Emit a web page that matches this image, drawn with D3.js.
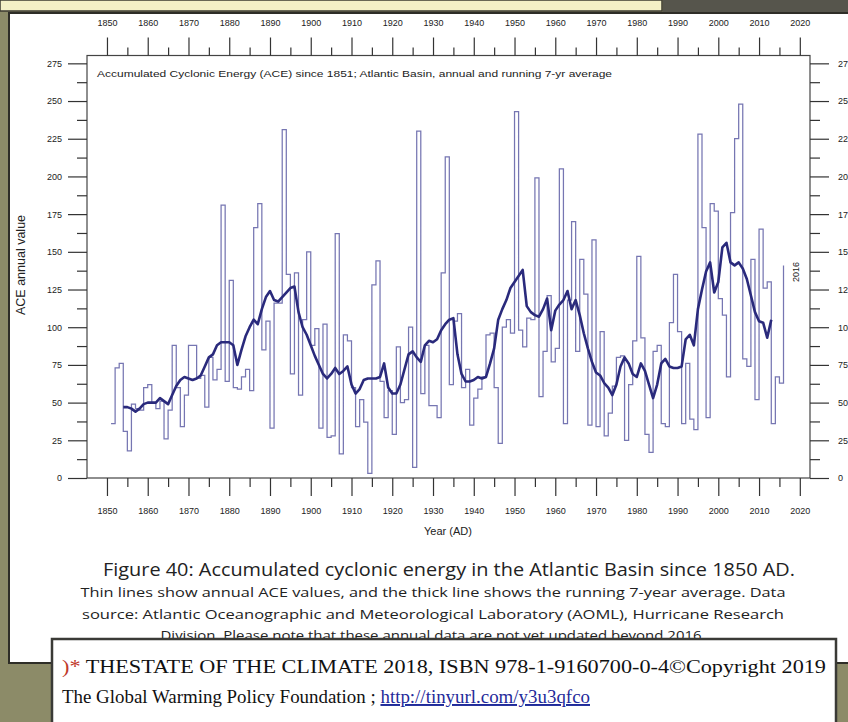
<!DOCTYPE html>
<html>
<head>
<meta charset="utf-8">
<script src="https://cdn.jsdelivr.net/npm/d3@7"></script>
<style>
  body { margin: 0; background: #8c8b68; }
  svg { display: block; }
</style>
</head>
<body>
<div id="chart-area"></div>
<script>
// annual ACE, 1851-2016
const years = d3.range(1851, 2017);
const aceAnnual = [
  36, 73, 76, 31, 18, 49, 46, 45, 60, 62,
  50, 46, 51, 26, 45, 88, 60, 34, 55, 88,
  88, 66, 68, 47, 80, 65, 72, 181, 64, 131,
  60, 59, 67, 72, 58, 166, 182, 85, 104, 33,
  116, 116, 231, 135, 69, 136, 55, 105, 150, 88,
  99, 33, 102, 27, 28, 162, 16, 95, 91, 60,
  34, 52, 37, 3, 128, 144, 64, 40, 58, 29,
  87, 50, 52, 100, 7, 230, 56, 88, 48, 48,
  40, 136, 213, 62, 104, 109, 60, 72, 35, 53,
  59, 67, 95, 96, 60, 23, 100, 105, 96, 243,
  98, 87, 106, 105, 199, 54, 84, 121, 77, 86,
  205, 36, 118, 170, 84, 145, 122, 35, 158, 34,
  97, 28, 43, 61, 80, 81, 25, 62, 91, 147,
  93, 29, 17, 84, 88, 36, 34, 103, 135, 97,
  36, 76, 39, 32, 228, 166, 40, 182, 177, 119,
  108, 67, 176, 225, 248, 79, 74, 145, 52, 165,
  126, 130, 36, 67, 63, 141
];

// running 7-yr average, 1854-2013
const meanYears = d3.range(1854, 2014);
const aceMean = [
  47, 47, 46, 44, 46, 49, 50,
  50, 50, 53, 51, 49, 55, 61, 65, 67, 66,
  65, 66, 68, 74, 80, 82, 88, 90, 90, 90,
  88, 75, 85, 94, 100, 105, 102, 112, 120, 124,
  118, 117, 120, 123, 126, 127, 110, 100, 95, 88,
  81, 75, 69, 66, 69, 73, 69, 71, 74, 62,
  56, 59, 65, 66, 66, 66, 67, 76, 60, 56,
  56, 62, 72, 82, 84, 80, 77, 88, 91, 90,
  92, 98, 102, 105, 106, 82, 69, 64, 64, 65,
  67, 66, 67, 76, 86, 105, 112, 118, 126, 130,
  134, 138, 114, 110, 108, 107, 112, 119, 98, 111,
  115, 118, 124, 112, 118, 108, 96, 86, 77, 70,
  68, 63, 60, 55, 62, 74, 80, 76, 69, 67,
  76, 71, 62, 53, 62, 76, 79, 74, 73, 73,
  74, 92, 95, 88, 112, 125, 137, 143, 123, 130,
  153, 156, 143, 141, 143, 139, 132, 121, 110, 104,
  103, 93, 105
];

const decadeTicks = d3.range(1850, 2021, 10);
const halfDecadeTicks = d3.range(1855, 2021, 10);
const yMajor = [0, 25, 50, 75, 100, 125, 150, 175, 200, 225, 250, 275];
const yMinor = [12.5, 37.5, 62.5, 87.5, 112.5, 137.5, 162.5, 187.5, 212.5, 237.5, 262.5];

const chartTitle = "Accumulated Cyclonic Energy (ACE) since 1851; Atlantic Basin, annual and running 7-yr average";
const captionLines = [
  "Thin lines show annual ACE values, and the thick line shows the running 7-year average. Data",
  "source: Atlantic Oceanographic and Meteorological Laboratory (AOML), Hurricane Research",
  "Division. Please note that these annual data are not yet updated beyond 2016."
];

const W = 848, H = 722;
const plot = { left: 87, right: 810, top: 55.5, bottom: 478 };

const svg = d3.select("#chart-area")
  .append("svg")
    .attr("width", W)
    .attr("height", H);

// page background pieces
svg.append("rect").attr("width", W).attr("height", H).attr("fill", "#8c8b68");
svg.append("rect").attr("x", 0).attr("y", 0).attr("width", 662).attr("height", 11)
  .attr("fill", "#f4f0c6").attr("stroke", "#3c3b30").attr("stroke-width", 1.5);
svg.append("rect").attr("x", 663).attr("y", 0).attr("width", 185).attr("height", 13)
  .attr("fill", "#56554c");
svg.append("rect").attr("x", 9).attr("y", 13).attr("width", 860).attr("height", 650)
  .attr("fill", "#ffffff").attr("stroke", "#2e2d27").attr("stroke-width", 2);

const x = d3.scaleLinear()
  .domain([1845.1, 2022.5])
  .range([plot.left, plot.right]);

const y = d3.scaleLinear()
  .domain([0, 280.2])
  .range([plot.bottom, plot.top]);

const g = svg.append("g");

// frame
g.append("rect")
  .attr("x", plot.left).attr("y", plot.top)
  .attr("width", plot.right - plot.left).attr("height", plot.bottom - plot.top)
  .attr("fill", "none").attr("stroke", "#444").attr("stroke-width", 1.2);

function styleAxis(sel) {
  sel.select(".domain").remove();
  sel.selectAll("line").attr("stroke", "#333").attr("stroke-width", 1.2);
  sel.selectAll("text")
    .attr("font-family", "Liberation Sans, Arial, sans-serif")
    .attr("font-size", "9px")
    .attr("fill", "#222");
}

// bottom x axis
g.append("g")
  .attr("transform", "translate(0," + plot.bottom + ")")
  .call(d3.axisBottom(x).tickValues(decadeTicks).tickSize(18).tickPadding(12).tickFormat(d3.format("d")))
  .call(styleAxis);
g.append("g")
  .attr("transform", "translate(0," + plot.bottom + ")")
  .call(d3.axisBottom(x).tickValues(halfDecadeTicks).tickSize(9).tickFormat(""))
  .call(styleAxis);

// top x axis
g.append("g")
  .attr("transform", "translate(0," + plot.top + ")")
  .call(d3.axisTop(x).tickValues(decadeTicks).tickSize(18).tickPadding(12).tickFormat(d3.format("d")))
  .call(styleAxis);
g.append("g")
  .attr("transform", "translate(0," + plot.top + ")")
  .call(d3.axisTop(x).tickValues(halfDecadeTicks).tickSize(8).tickFormat(""))
  .call(styleAxis);

// left y axis
g.append("g")
  .attr("transform", "translate(" + plot.left + ",0)")
  .call(d3.axisLeft(y).tickValues(yMajor).tickSize(19).tickPadding(6))
  .call(styleAxis);
g.append("g")
  .attr("transform", "translate(" + plot.left + ",0)")
  .call(d3.axisLeft(y).tickValues(yMinor).tickSize(10).tickFormat(""))
  .call(styleAxis);

// right y axis (labels run off the page edge as in the original)
g.append("g")
  .attr("transform", "translate(" + plot.right + ",0)")
  .call(d3.axisRight(y).tickValues(yMajor).tickSize(19).tickPadding(9))
  .call(styleAxis);
g.append("g")
  .attr("transform", "translate(" + plot.right + ",0)")
  .call(d3.axisRight(y).tickValues(yMinor).tickSize(10).tickFormat(""))
  .call(styleAxis);

// annual values as thin step line
const annualLine = d3.line()
  .x((d, i) => x(years[i]))
  .y(d => y(d))
  .curve(d3.curveStepAfter);

g.append("path")
  .datum(aceAnnual)
  .attr("d", annualLine)
  .attr("fill", "none")
  .attr("stroke", "#7676b2")
  .attr("stroke-width", 1.25);

// running 7-yr average
const meanLine = d3.line()
  .x((d, i) => x(meanYears[i]))
  .y(d => y(d));

g.append("path")
  .datum(aceMean)
  .attr("d", meanLine)
  .attr("fill", "none")
  .attr("stroke", "#2a2a7c")
  .attr("stroke-width", 2.6)
  .attr("stroke-linejoin", "round");

// labels inside chart
g.append("text")
  .attr("x", 97).attr("y", 77)
  .attr("font-family", "Liberation Sans, Arial, sans-serif")
  .attr("font-size", "9.5px")
  .attr("fill", "#222")
  .attr("textLength", 515).attr("lengthAdjust", "spacingAndGlyphs")
  .text(chartTitle);

g.append("text")
  .attr("transform", "translate(799,272) rotate(-90)")
  .attr("text-anchor", "middle")
  .attr("font-family", "Liberation Sans, Arial, sans-serif")
  .attr("font-size", "9px")
  .attr("fill", "#222")
  .text("2016");

g.append("text")
  .attr("transform", "translate(25,265) rotate(-90)")
  .attr("text-anchor", "middle")
  .attr("font-family", "Liberation Sans, Arial, sans-serif")
  .attr("font-size", "12.5px")
  .attr("fill", "#222")
  .text("ACE annual value");

g.append("text")
  .attr("x", 448).attr("y", 535)
  .attr("text-anchor", "middle")
  .attr("font-family", "Liberation Sans, Arial, sans-serif")
  .attr("font-size", "11px")
  .attr("fill", "#222")
  .text("Year (AD)");

// figure caption
svg.append("text")
  .attr("x", 449).attr("y", 576)
  .attr("text-anchor", "middle")
  .attr("font-family", "Open Sans, sans-serif")
  .attr("font-size", "17.5px")
  .attr("fill", "#222")
  .attr("textLength", 692).attr("lengthAdjust", "spacingAndGlyphs")
  .text("Figure 40: Accumulated cyclonic energy in the Atlantic Basin since 1850 AD.");

const capLengths = [705, 702, 545];
svg.selectAll(".cap")
  .data(captionLines)
  .enter().append("text")
    .attr("class", "cap")
    .attr("x", 433).attr("y", (d, i) => 597 + i * 21.5)
    .attr("text-anchor", "middle")
    .attr("font-family", "Open Sans, sans-serif")
    .attr("font-size", "13.5px")
    .attr("fill", "#222")
    .attr("textLength", (d, i) => capLengths[i]).attr("lengthAdjust", "spacingAndGlyphs")
    .text(d => d);

// bottom source box
svg.append("rect")
  .attr("x", 52).attr("y", 639).attr("width", 784).attr("height", 95)
  .attr("fill", "#ffffff").attr("stroke", "#3a3a36").attr("stroke-width", 2.5);

const src1 = svg.append("text")
  .attr("x", 62).attr("y", 673)
  .attr("font-family", "Liberation Serif, Times New Roman, serif")
  .attr("font-size", "19.5px")
  .attr("fill", "#111")
  .attr("textLength", 764).attr("lengthAdjust", "spacingAndGlyphs");
src1.append("tspan").attr("fill", "#c0392b").text(")*");
src1.append("tspan").text(" THESTATE OF THE CLIMATE 2018, ISBN 978-1-9160700-0-4©Copyright 2019");

const src2 = svg.append("text")
  .attr("x", 62).attr("y", 703)
  .attr("font-family", "Liberation Serif, Times New Roman, serif")
  .attr("font-size", "19.5px")
  .attr("fill", "#111")
  .attr("textLength", 528).attr("lengthAdjust", "spacingAndGlyphs");
src2.append("tspan").text("The Global Warming Policy Foundation ; ");
src2.append("tspan")
  .attr("fill", "#1f2a9a")
  .attr("text-decoration", "underline")
  .text("http://tinyurl.com/y3u3qfco");
</script>
</body>
</html>
